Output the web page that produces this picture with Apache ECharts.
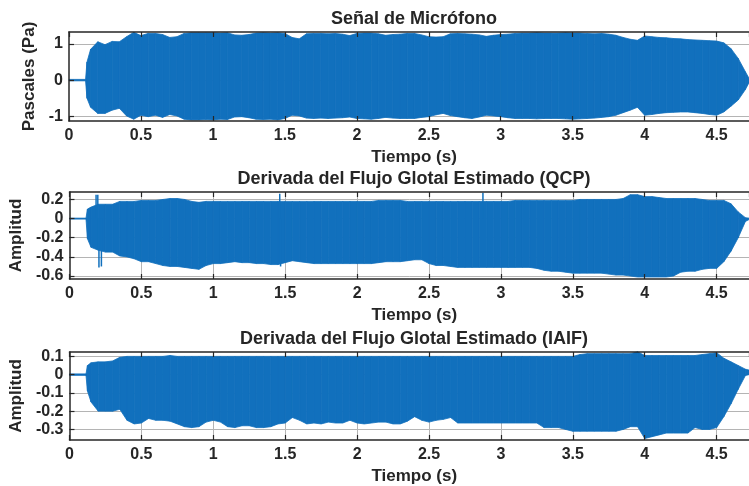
<!DOCTYPE html>
<html>
<head>
<meta charset="utf-8">
<script src="https://cdn.jsdelivr.net/npm/echarts@6/dist/echarts.min.js"></script>
<style>html,body{margin:0;padding:0;background:#fff}#c{width:749px;height:486px}</style>
</head>
<body>
<div id="c"></div>
<script>
// time samples (s) at which envelopes were read
const T = [0, 0.115, 0.125, 0.15, 0.2, 0.25, 0.3, 0.35, 0.4, 0.45,
  0.5, 0.55, 0.6, 0.65, 0.7, 0.75, 0.8, 0.85, 0.9, 0.95,
  1.0, 1.05, 1.1, 1.15, 1.2, 1.25, 1.3, 1.35, 1.4, 1.45,
  1.5, 1.55, 1.6, 1.65, 1.7, 1.75, 1.8, 1.85, 1.9, 1.95,
  2.0, 2.05, 2.1, 2.15, 2.2, 2.25, 2.3, 2.35, 2.4, 2.45,
  2.5, 2.55, 2.6, 2.65, 2.7, 2.75, 2.8, 2.85, 2.9, 2.95,
  3.0, 3.05, 3.1, 3.15, 3.2, 3.25, 3.3, 3.35, 3.4, 3.45,
  3.5, 3.55, 3.6, 3.65, 3.7, 3.75, 3.8, 3.85, 3.9, 3.95,
  4.0, 4.05, 4.1, 4.15, 4.2, 4.25, 4.3, 4.35, 4.4, 4.45,
  4.5, 4.55, 4.6, 4.65, 4.7, 4.725];

// Señal de Micrófono: upper / lower envelope (Pa)
const UP1 = [0.02, 0.02, 0.5, 0.85, 1.06, 0.98, 1.07, 1.06, 1.20, 1.32,
  1.23, 1.29, 1.29, 1.26, 1.18, 1.20, 1.29, 1.31, 1.31, 1.31,
  1.31, 1.30, 1.31, 1.25, 1.24, 1.26, 1.30, 1.31, 1.30, 1.31,
  1.29, 1.18, 1.14, 1.28, 1.29, 1.29, 1.28, 1.29, 1.27, 1.23,
  1.29, 1.30, 1.30, 1.28, 1.24, 1.26, 1.27, 1.29, 1.29, 1.25,
  1.20, 1.19, 1.20, 1.28, 1.29, 1.28, 1.27, 1.25, 1.21, 1.24,
  1.26, 1.27, 1.29, 1.30, 1.30, 1.31, 1.30, 1.30, 1.30, 1.31,
  1.30, 1.30, 1.29, 1.28, 1.29, 1.27, 1.24, 1.18, 1.13, 1.10,
  1.22, 1.20, 1.18, 1.17, 1.15, 1.14, 1.12, 1.11, 1.10, 1.09,
  1.08, 1.03, 0.87, 0.60, 0.23, 0.05];
const LO1 = [-0.02, -0.02, -0.5, -0.75, -0.92, -0.92, -0.83, -0.78, -0.99, -1.08,
  -0.97, -1.01, -0.97, -1.03, -0.95, -0.99, -1.08, -1.10, -1.10, -1.09,
  -1.10, -1.08, -1.09, -1.02, -1.01, -1.04, -1.08, -1.09, -1.08, -1.10,
  -1.06, -0.97, -0.99, -1.05, -1.06, -1.05, -1.06, -1.05, -1.04, -1.02,
  -1.06, -1.07, -1.08, -1.06, -1.03, -1.05, -1.06, -1.06, -1.06, -1.03,
  -1.01, -0.96, -0.92, -0.98, -1.01, -1.04, -1.06, -1.02, -0.97, -0.99,
  -1.01, -1.04, -1.06, -1.06, -1.06, -1.07, -1.06, -1.06, -1.06, -1.07,
  -1.08, -1.07, -1.06, -1.05, -1.03, -1.01, -0.97, -0.90, -0.83, -0.75,
  -0.97, -0.95, -0.92, -0.90, -0.89, -0.88, -0.88, -0.90, -0.92, -0.95,
  -0.97, -0.88, -0.72, -0.55, -0.26, -0.07];

// Derivada del Flujo Glotal Estimado (QCP)
const UP2 = [0.005, 0.005, 0.10, 0.12, 0.15, 0.15, 0.15, 0.18, 0.18, 0.18,
  0.19, 0.19, 0.19, 0.20, 0.21, 0.21, 0.20, 0.18, 0.17, 0.18,
  0.18, 0.18, 0.18, 0.18, 0.18, 0.18, 0.18, 0.18, 0.18, 0.18,
  0.18, 0.18, 0.18, 0.18, 0.18, 0.18, 0.18, 0.18, 0.18, 0.18,
  0.18, 0.18, 0.18, 0.19, 0.19, 0.19, 0.19, 0.18, 0.18, 0.18,
  0.18, 0.18, 0.18, 0.18, 0.18, 0.18, 0.18, 0.18, 0.18, 0.18,
  0.18, 0.18, 0.19, 0.19, 0.19, 0.19, 0.19, 0.19, 0.19, 0.19,
  0.19, 0.20, 0.20, 0.20, 0.20, 0.20, 0.20, 0.21, 0.25, 0.25,
  0.23, 0.23, 0.22, 0.21, 0.21, 0.21, 0.21, 0.21, 0.20, 0.19,
  0.19, 0.19, 0.155, 0.07, 0.01, 0.005];
const LO2 = [-0.005, -0.005, -0.21, -0.30, -0.33, -0.35, -0.35, -0.39, -0.40, -0.42,
  -0.45, -0.45, -0.47, -0.49, -0.50, -0.50, -0.51, -0.52, -0.53, -0.49,
  -0.47, -0.47, -0.46, -0.45, -0.46, -0.46, -0.47, -0.47, -0.48, -0.48,
  -0.46, -0.44, -0.45, -0.46, -0.47, -0.47, -0.47, -0.47, -0.47, -0.47,
  -0.47, -0.47, -0.47, -0.46, -0.45, -0.45, -0.45, -0.44, -0.43, -0.43,
  -0.47, -0.49, -0.49, -0.50, -0.51, -0.51, -0.51, -0.51, -0.51, -0.51,
  -0.51, -0.51, -0.51, -0.51, -0.51, -0.52, -0.54, -0.55, -0.55, -0.56,
  -0.57, -0.57, -0.57, -0.57, -0.57, -0.58, -0.59, -0.59, -0.60, -0.61,
  -0.61, -0.61, -0.61, -0.61, -0.60, -0.56, -0.55, -0.55, -0.53, -0.52,
  -0.52, -0.45, -0.34, -0.20, -0.03, -0.01];
// isolated QCP spikes
const SPK2_T = [0.185, 0.197, 0.205, 0.222, 1.462, 1.468, 2.875];
const SPK2_V = [0.25, 0.25, -0.51, -0.50, 0.26, -0.50, 0.27];

// Derivada del Flujo Glotal Estimado (IAIF)
const UP3 = [0.004, 0.004, 0.05, 0.065, 0.07, 0.07, 0.075, 0.095, 0.10, 0.10,
  0.10, 0.10, 0.10, 0.10, 0.105, 0.10, 0.10, 0.10, 0.10, 0.10,
  0.10, 0.10, 0.10, 0.10, 0.10, 0.10, 0.10, 0.10, 0.10, 0.10,
  0.10, 0.10, 0.10, 0.10, 0.10, 0.10, 0.10, 0.10, 0.10, 0.10,
  0.10, 0.10, 0.10, 0.10, 0.10, 0.10, 0.10, 0.10, 0.10, 0.10,
  0.10, 0.10, 0.10, 0.10, 0.10, 0.10, 0.10, 0.10, 0.10, 0.10,
  0.10, 0.10, 0.10, 0.10, 0.10, 0.10, 0.10, 0.10, 0.10, 0.10,
  0.10, 0.11, 0.115, 0.115, 0.115, 0.115, 0.115, 0.115, 0.115, 0.125,
  0.105, 0.105, 0.105, 0.105, 0.105, 0.105, 0.105, 0.105, 0.11, 0.115,
  0.12, 0.09, 0.07, 0.05, 0.03, 0.025];
const LO3 = [-0.004, -0.004, -0.09, -0.15, -0.20, -0.20, -0.20, -0.19, -0.25, -0.27,
  -0.265, -0.24, -0.25, -0.25, -0.255, -0.27, -0.285, -0.29, -0.285, -0.26,
  -0.25, -0.26, -0.285, -0.29, -0.28, -0.28, -0.29, -0.29, -0.285, -0.27,
  -0.265, -0.235, -0.25, -0.27, -0.265, -0.27, -0.26, -0.265, -0.265, -0.25,
  -0.265, -0.27, -0.265, -0.26, -0.26, -0.27, -0.27, -0.255, -0.23, -0.25,
  -0.26, -0.25, -0.245, -0.235, -0.265, -0.265, -0.265, -0.265, -0.265, -0.265,
  -0.265, -0.265, -0.265, -0.265, -0.265, -0.265, -0.29, -0.29, -0.29, -0.30,
  -0.31, -0.31, -0.31, -0.31, -0.31, -0.31, -0.31, -0.30, -0.285, -0.285,
  -0.35, -0.34, -0.33, -0.32, -0.32, -0.32, -0.32, -0.29, -0.30, -0.30,
  -0.29, -0.23, -0.16, -0.08, -0.005, 0.0];

// axis ticks
const X_TICKS = [0, 0.5, 1, 1.5, 2, 2.5, 3, 3.5, 4, 4.5];
const Y1_TICKS = [-1, 0, 1];
const Y2_TICKS = [-0.6, -0.4, -0.2, 0, 0.2];
const Y3_TICKS = [-0.3, -0.2, -0.1, 0, 0.1];
const TITLES = ['Señal de Micrófono', 'Derivada del Flujo Glotal Estimado (QCP)', 'Derivada del Flujo Glotal Estimado (IAIF)'];
const Y_NAMES = ['Pascales (Pa)', 'Amplitud', 'Amplitud'];
const X_NAME = 'Tiempo (s)';

const FONT = '"Liberation Sans", Arial, Helvetica, sans-serif';
const INK = '#262626';
const BLUE = '#1170bd';
const GRIDC = '#b4b4b4';

const panels = [
  {top: 32, height: 89, min: -1.13, max: 1.33, ticks: Y1_TICKS, up: UP1, lo: LO1, gap: 21},
  {top: 192, height: 87, min: -0.631, max: 0.278, ticks: Y2_TICKS, up: UP2, lo: LO2, gap: 38},
  {top: 352, height: 88, min: -0.358, max: 0.124, ticks: Y3_TICKS, up: UP3, lo: LO3, gap: 38}
];
const XMAX = 4.725;

function bandItem(params, api) {
  const p0u = api.coord([api.value(0), api.value(2)]);
  const p1u = api.coord([api.value(3), api.value(5)]);
  const p1l = api.coord([api.value(3), api.value(4)]);
  const p0l = api.coord([api.value(0), api.value(1)]);
  return {type: 'polygon', shape: {points: [p0u, p1u, p1l, p0l]},
    style: {fill: BLUE, stroke: BLUE, lineWidth: 0.8}};
}

const grids = [], xAxes = [], yAxes = [], series = [], graphics = [];
panels.forEach((p, i) => {
  grids.push({left: 69, right: 0, top: p.top, height: p.height, containLabel: false});
  xAxes.push({
    type: 'value', gridIndex: i, min: 0, max: XMAX, interval: 0.5, position: 'bottom', z: 10,
    name: X_NAME, nameLocation: 'middle', nameGap: 28,
    nameTextStyle: {fontSize: 17, fontWeight: 'bold', color: INK, fontFamily: FONT, padding: [0, 0, 0, 10]},
    axisLine: {show: true, onZero: false, lineStyle: {color: INK, width: 1.5}},
    axisTick: {inside: true, length: 5, lineStyle: {color: INK, width: 1.2}},
    axisLabel: {color: INK, fontSize: 16, fontWeight: 'bold', fontFamily: FONT, margin: 7, showMaxLabel: false,
      formatter: v => String(v)},
    splitLine: {show: false}
  });
  xAxes.push({
    type: 'value', gridIndex: i, min: 0, max: XMAX, interval: 0.5, position: 'top', z: 10,
    axisLine: {show: true, onZero: false, lineStyle: {color: INK, width: 1.5}},
    axisTick: {inside: true, length: 5, lineStyle: {color: INK, width: 1.2}},
    axisLabel: {show: false}, splitLine: {show: false}
  });
  yAxes.push({
    type: 'value', gridIndex: i, min: p.min, max: p.max, z: 10,
    name: Y_NAMES[i], nameLocation: 'middle', nameGap: p.gap,
    nameTextStyle: {fontSize: 17, fontWeight: 'bold', color: INK, fontFamily: FONT},
    axisLine: {show: true, onZero: false, lineStyle: {color: INK, width: 1.5}},
    axisTick: {inside: true, length: 5, customValues: p.ticks, lineStyle: {color: INK, width: 1.2}},
    axisLabel: {color: INK, fontSize: 16, fontWeight: 'bold', fontFamily: FONT, margin: 6, customValues: p.ticks,
      formatter: v => String(v)},
    splitLine: {show: false}
  });
  // grid lines at tick values (behind the signal)
  series.push({
    type: 'line', xAxisIndex: 2 * i, yAxisIndex: i, data: [], silent: true, z: 1,
    markLine: {silent: true, symbol: 'none', label: {show: false}, animation: false, z: 1,
      lineStyle: {color: GRIDC, width: 1, type: 'solid'},
      data: p.ticks.map(v => ({yAxis: v})).concat(X_TICKS.slice(1).map(v => ({xAxis: v})))}
  });
  // signal envelope band, one quad per pair of samples
  series.push({
    type: 'custom', xAxisIndex: 2 * i, yAxisIndex: i, silent: true, z: 6,
    data: T.slice(0, -1).map((t, k) => [t, p.lo[k], p.up[k], T[k + 1], p.lo[k + 1], p.up[k + 1]]),
    renderItem: bandItem
  });
  graphics.push({
    type: 'text', x: 414, y: p.top - 13, z: 10,
    style: {text: TITLES[i], fill: INK, font: 'bold 18px ' + FONT, textAlign: 'center', textVerticalAlign: 'middle'}
  });
});
series.push({
  type: 'custom', xAxisIndex: 2, yAxisIndex: 1, z: 7, silent: true,
  data: SPK2_T.map((t, k) => [t, SPK2_V[k]]),
  renderItem: (params, api) => {
    const a = api.coord([api.value(0), 0]);
    const b = api.coord([api.value(0), api.value(1)]);
    return {type: 'line', shape: {x1: a[0], y1: a[1], x2: b[0], y2: b[1]}, style: {stroke: BLUE, lineWidth: 1.5}};
  }
});

const chart = echarts.init(document.getElementById('c'), null, {renderer: 'canvas'});
chart.setOption({
  animation: false,
  backgroundColor: '#ffffff',
  grid: grids, xAxis: xAxes, yAxis: yAxes, series: series, graphic: graphics
});
</script>
</body>
</html>
